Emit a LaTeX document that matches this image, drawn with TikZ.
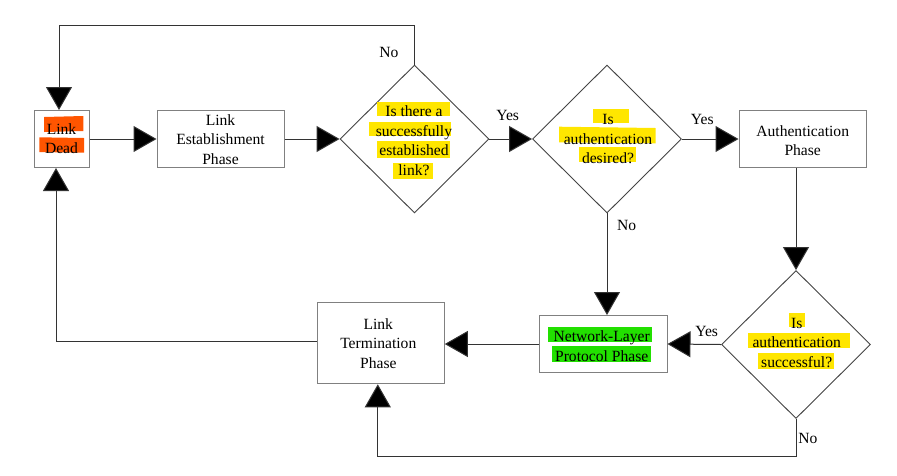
\documentclass[tikz,border=0pt]{standalone}
\usepackage{fontspec}
\setmainfont{Liberation Serif}
\usetikzlibrary{arrows.meta,shapes.geometric}
\definecolor{hly}{HTML}{FFE600}
\definecolor{hlo}{HTML}{FF5500}
\definecolor{hlg}{HTML}{22E000}
\definecolor{connc}{HTML}{333333}
\definecolor{boxc}{HTML}{808080}
\definecolor{diac}{HTML}{444444}
\begin{document}
\begin{tikzpicture}[x=1pt,y=-1pt,
  box/.style={draw=boxc,line width=1pt,fill=white,inner sep=0pt},
  dia/.style={diamond,draw=diac,line width=0.9pt,fill=white,inner sep=0pt,minimum width=149pt,minimum height=148pt},
  txt/.style={align=center,font=\fontsize{15.6}{19.5}\selectfont,inner sep=0pt},
  lbl/.style={font=\fontsize{15.6}{18}\selectfont,inner sep=0pt},
  conn/.style={draw=connc,line width=1pt,-{Triangle[length=23pt,width=26pt,fill=black]}},
]
\useasboundingbox (0,0) rectangle (897,475);
% shapes
\node[box,minimum width=55pt,minimum height=57pt] (ld) at (61.5,139) {};
\node[box,minimum width=127pt,minimum height=57pt] (le) at (220.5,139) {};
\node[dia] (d1) at (414.5,139) {};
\node[dia] (d2) at (607,139) {};
\node[box,minimum width=127pt,minimum height=57pt] (au) at (802.5,139) {};
\node[dia] (d3) at (796,344.5) {};
\node[box,minimum width=128pt,minimum height=57pt] (nl) at (603,344) {};
\node[box,minimum width=127pt,minimum height=81pt] (lt) at (380.8,343.3) {};
\coordinate (topy) at (0,25);
\coordinate (boty) at (0,456.7);
% connectors
\draw[conn] (ld.east) -- (le.west);
\draw[conn] (le.east) -- (d1.west);
\draw[conn] (d1.east) -- (d2.west);
\draw[conn] (d2.east) -- (au.west);
\draw[conn] (au.south -| d3.north) -- (d3.north);
\draw[conn] (d3.west) -- (nl.east);
\draw[conn] (d2.south) -- (d2.south |- nl.north);
\draw[conn] (nl.west) -- (nl.west -| lt.east);
\draw[conn] (d3.south) -- (d3.south |- boty) -| ([xshift=-3pt]lt.south);
\draw[conn] ([yshift=2.3pt]lt.west) -| ([xshift=-5.5pt]ld.south);
\draw[conn] (d1.north) -- (d1.north |- topy) -| ([xshift=-2.5pt]ld.north);
% highlights
\fill[hlo] (44,117) -- (83.3,116) -- (83.3,131) -- (44,132) -- cycle;
\fill[hlo] (39.3,137.3) -- (84,138) -- (84,152.7) -- (39.3,152) -- cycle;
\fill[hly] (376.7,101.7) rectangle (450,116);
\fill[hly] (369,121.7) rectangle (451,136);
\fill[hly] (377,141) rectangle (450,158);
\fill[hly] (392.7,163) rectangle (432.7,179);
\fill[hly] (593.3,109.3) rectangle (629,123.3);
\fill[hly] (559,126.7) -- (655.7,128) -- (655.7,143.3) -- (559,142.3) -- cycle;
\fill[hly] (579.3,147.3) rectangle (636,161.7);
\fill[hly] (789.3,312.7) rectangle (805,327.3);
\fill[hly] (748.3,333.3) rectangle (850,348.3);
\fill[hly] (757.7,353.3) rectangle (834,369.3);
\fill[hlg] (548.3,326.7) rectangle (652.3,341.7);
\fill[hlg] (551.7,345.7) rectangle (650.7,361.7);
% texts
\node[txt] (tld) at (61.5,138.5) {Link\\Dead};
\node[txt] (tle) at (220.5,139.5) {Link\\Establishment\\Phase};
\node[txt] (td1) at (414,140.5) {Is there a\\successfully\\established\\link?};
\node[txt] (td2) at (608,139.3) {Is\\authentication\\desired?};
\node[txt] (tau) at (802.7,140.5) {Authentication\\Phase};
\node[txt] (td3) at (796.7,342.7) {Is\\authentication\\successful?};
\node[txt] (tnl) at (601.7,346) {Network-Layer\\Protocol Phase};
\node[txt] (tlt) at (378.3,343.3) {Link\\Termination\\Phase};
% labels
\node[lbl] (y1) at (507.7,115) {Yes};
\node[lbl] (y2) at (702.3,119.3) {Yes};
\node[lbl] (n2) at (626.7,225) {No};
\node[lbl] (y3) at (706.7,331.7) {Yes};
\node[lbl] (n3) at (808,438) {No};
\node[lbl] (n1) at (389,52) {No};
\end{tikzpicture}
\end{document}
